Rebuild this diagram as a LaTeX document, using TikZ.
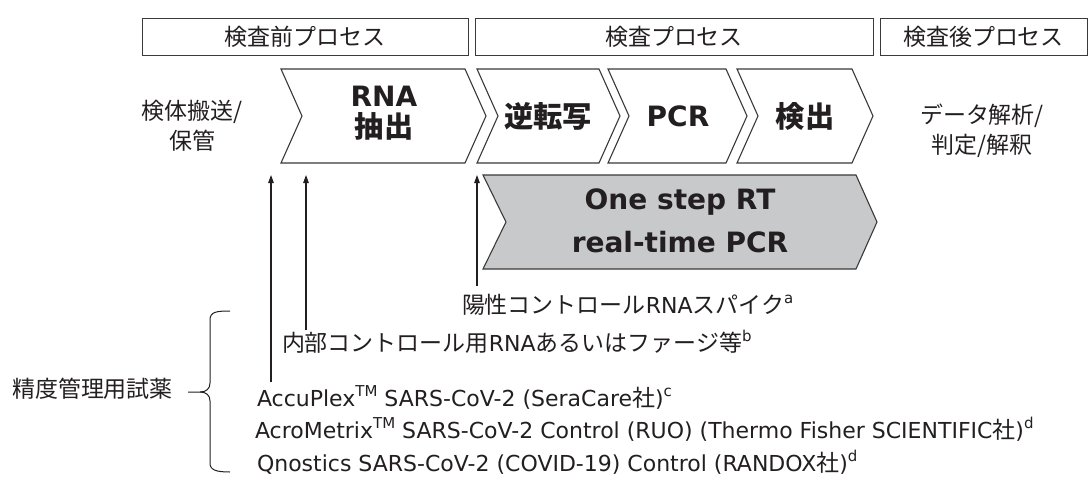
\documentclass[tikz,border=0pt]{standalone}
\usepackage{fontspec}
\setmainfont{DejaVu Sans}
\newfontfamily\jp[Scale=1.045]{Noto Sans CJK JP}
\usetikzlibrary{arrows.meta}
\newcommand\J[1]{{\jp #1}}
\newcommand\supx[1]{\raisebox{0.42em}{\fontsize{15}{15}\selectfont #1}}
\definecolor{ink}{HTML}{231F20}
\definecolor{edgec}{HTML}{3A3A3A}
\definecolor{grayfill}{HTML}{C8C9CB}
\begin{document}
\begin{tikzpicture}[x=1pt,y=-1pt,
  every node/.style={inner sep=0pt, outer sep=0pt, text=ink},
  phasebox/.style={draw=edgec, line width=1pt, minimum height=37pt, font=\fontsize{22}{26}\selectfont},
  chev/.style={draw=edgec, line width=1.1pt, fill=white, line join=miter},
  chevgray/.style={chev, fill=grayfill},
  steptext/.style={font=\fontsize{28}{30}\selectfont\bfseries},
  plain/.style={font=\fontsize{22}{30}\selectfont},
  sidetext/.style={plain, align=center},
  spike/.style={draw=ink, line width=1.1pt, -{Triangle[length=8pt,width=5.5pt]}},
  bracec/.style={draw=ink, line width=1pt}
]
\fill[white] (0,0) rectangle (1088,477);
\useasboundingbox (0,0) rectangle (1088,477);

% phase boxes
\node[phasebox, minimum width=326pt] (pre)  at (305,36.5)  {\J{検査前プロセス}};
\node[phasebox, minimum width=398pt] (main) at (674,36.5)  {\J{検査プロセス}};
\node[phasebox, minimum width=207pt] (post) at (983.5,36.5) {\J{検査後プロセス}};

% chevrons
\draw[chev] (281,69) -- (465,69) -- (486,116) -- (465,163) -- (281,163) -- (302,116) -- cycle;
\draw[chev] (477,69) -- (599,69) -- (620,116) -- (599,163) -- (477,163) -- (498,116) -- cycle;
\draw[chev] (608,69) -- (726,69) -- (747,116) -- (726,163) -- (608,163) -- (629,116) -- cycle;
\draw[chev] (737,69) -- (852,69) -- (873,116) -- (852,163) -- (737,163) -- (758,116) -- cycle;
\draw[chevgray] (483,175) -- (856,175) -- (877,222) -- (856,269) -- (483,269) -- (506,222) -- cycle;

% step labels
\node[steptext] (rna1) at (384,96)  {RNA};
\node[steptext] (rna2) at (384,126) {\J{抽出}};
\node[steptext] (rt)   at (548,116) {\J{逆転写}};
\node[steptext] (pcr)  at (678,116) {PCR};
\node[steptext] (det)  at (805,116) {\J{検出}};
\node[steptext] (one1) at (680,202) {One step RT};
\node[steptext] (one2) at (680,242) {real-time PCR};

% side texts
\node[sidetext] (transport) at (192,126) {\J{検体搬送/}\\\J{保管}};
\node[sidetext] (analysis)  at (982,131) {\J{データ解析/}\\\J{判定/解釈}};

% arrows
\coordinate (a1s) at (271,382);
\coordinate (a1e) at (271,175);
\coordinate (a2s) at (306,330);
\coordinate (a2e) at (306,175);
\coordinate (a3s) at (477,286);
\coordinate (a3e) at (477,175);
\draw[spike] (a1s) -- (a1e);
\draw[spike] (a2s) -- (a2e);
\draw[spike] (a3s) -- (a3e);

% reagent texts
\node[plain, anchor=base west] (pos)  at (462,313) {\J{陽性コントロール}RNA\J{スパイク}\supx{a}};
\node[plain, anchor=base west] (ic)   at (282,351) {\J{内部コントロール用}RNA\J{あるいはファージ等}\supx{b}};
\node[plain, anchor=base west] (acc)  at (257,406) {AccuPlex\supx{TM} SARS-CoV-2 (SeraCare\J{社})\supx{c}};
\node[plain, anchor=base west] (acro) at (255,438) {AcroMetrix\supx{TM} SARS-CoV-2 Control (RUO) (Thermo Fisher SCIENTIFIC\J{社})\supx{d}};
\node[plain, anchor=base west] (qno)  at (257,471) {Qnostics SARS-CoV-2 (COVID-19) Control (RANDOX\J{社})\supx{d}};

% brace and label
\node[plain] (qc) at (92.5,389) {\J{精度管理用試薬}};
\draw[bracec] (230,311) .. controls (216,311) and (210,312) .. (210,320) -- (210,383)
  .. controls (210,389) and (206,392) .. (200,392) -- (188,392);
\draw[bracec] (200,392) .. controls (206,392) and (210,395) .. (210,401) -- (210,463)
  .. controls (210,470) and (216,472) .. (230,472);
\end{tikzpicture}
\end{document}
